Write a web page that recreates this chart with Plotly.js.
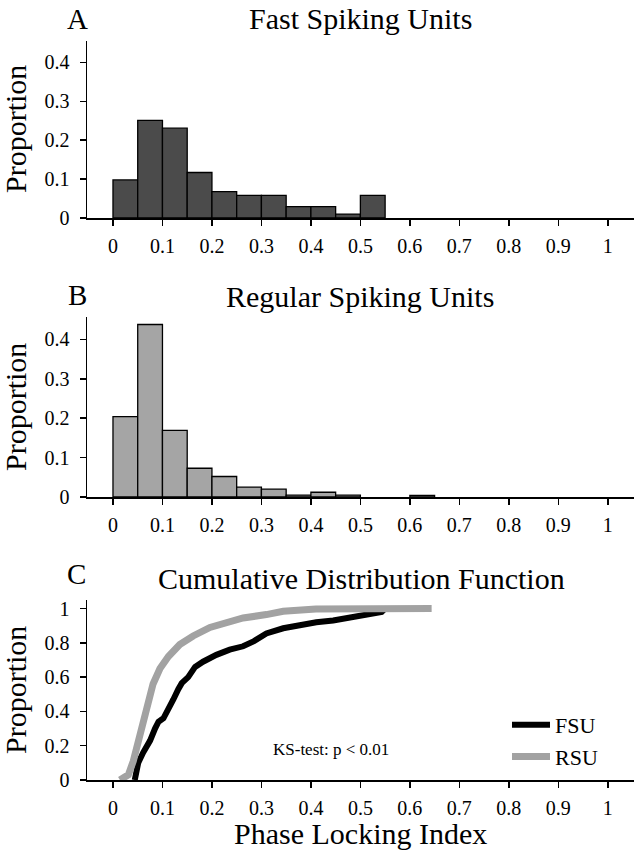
<!DOCTYPE html>
<html>
<head>
<meta charset="utf-8">
<script src="https://cdn.plot.ly/plotly-3.0.1.min.js"></script>
<style>
  html, body { margin: 0; padding: 0; background: #fff; }
  #chart { width: 634px; height: 853px; }
</style>
</head>
<body>
<div id="chart"></div>
<script>
// histogram bins (left edges), width 0.05; null = empty bin
var binLeft = [0, 0.05, 0.1, 0.15, 0.2, 0.25, 0.3, 0.35, 0.4, 0.45, 0.5, 0.55, 0.6];
var fsuProp = [0.098, 0.251, 0.231, 0.117, 0.068, 0.058, 0.058, 0.029, 0.029, 0.010, 0.058, null, null];
var rsuProp = [0.204, 0.438, 0.169, 0.073, 0.052, 0.025, 0.020, 0.005, 0.012, 0.005, null, null, 0.004];

// cumulative distributions
var fsuCdfX = [0.044, 0.051, 0.061, 0.075, 0.085, 0.092, 0.102, 0.112, 0.122, 0.132, 0.139, 0.152, 0.166, 0.182, 0.209, 0.236, 0.263, 0.285, 0.31, 0.344, 0.378, 0.411, 0.445, 0.465, 0.499, 0.526, 0.543, 0.55];
var fsuCdfY = [0, 0.10, 0.16, 0.23, 0.30, 0.34, 0.36, 0.41, 0.47, 0.53, 0.565, 0.60, 0.66, 0.69, 0.73, 0.76, 0.78, 0.81, 0.855, 0.885, 0.905, 0.92, 0.93, 0.94, 0.95, 0.965, 0.98, 1.0];
var rsuCdfX = [0.014, 0.031, 0.041, 0.051, 0.061, 0.071, 0.081, 0.095, 0.112, 0.135, 0.162, 0.196, 0.230, 0.263, 0.31, 0.344, 0.41, 0.479, 0.644];
var rsuCdfY = [0, 0.03, 0.11, 0.23, 0.35, 0.46, 0.56, 0.65, 0.72, 0.79, 0.84, 0.89, 0.92, 0.945, 0.965, 0.984, 0.998, 1.0, 1.0];

var xTicks = [0, 0.1, 0.2, 0.3, 0.4, 0.5, 0.6, 0.7, 0.8, 0.9, 1];

var FONT = '"Liberation Serif", "Times New Roman", serif';
var W = 634, H = 853;

// pixel -> paper helpers for text placement
function px(x) { return x / W; }
function py(y) { return 1 - y / H; }

var data = [
    {
        type: 'bar', x: binLeft, y: fsuProp, width: 0.05, offset: 0,
        marker: {color: '#4b4b4b', line: {color: '#000', width: 1.3}},
        xaxis: 'x', yaxis: 'y', showlegend: false
    },
    {
        type: 'bar', x: binLeft, y: rsuProp, width: 0.05, offset: 0,
        marker: {color: '#a5a5a5', line: {color: '#000', width: 1.3}},
        xaxis: 'x2', yaxis: 'y2', showlegend: false
    },
    {
        type: 'scatter', mode: 'lines', name: 'FSU',
        x: fsuCdfX, y: fsuCdfY,
        line: {color: '#000', width: 6},
        xaxis: 'x3', yaxis: 'y3'
    },
    {
        type: 'scatter', mode: 'lines', name: 'RSU',
        x: rsuCdfX, y: rsuCdfY,
        line: {color: '#a2a2a2', width: 7},
        xaxis: 'x3', yaxis: 'y3'
    }
];

function xAxis(anchor) {
    return {
        anchor: anchor, domain: [87 / W, 1], range: [-0.0525, 1.053],
        tickvals: xTicks, ticks: 'outside', ticklen: 6, tickwidth: 1.5, tickcolor: '#000',
        showline: true, linecolor: '#000', linewidth: 1.5,
        showgrid: false, zeroline: false, ticklabelstandoff: 3,
        tickfont: {family: FONT, size: 20, color: '#000'}
    };
}
function yAxis(anchor, dom, rng, dt) {
    return {
        anchor: anchor, domain: dom, range: rng, dtick: dt, tick0: 0,
        ticks: 'outside', ticklen: 6, tickwidth: 1.5, tickcolor: '#000',
        showline: true, linecolor: '#000', linewidth: 1.5,
        showgrid: false, zeroline: false, ticklabelstandoff: 6,
        tickfont: {family: FONT, size: 20, color: '#000'}
    };
}

function label(text, x, y, size, extra) {
    var a = {
        text: text, xref: 'paper', yref: 'paper', x: px(x), y: py(y),
        xanchor: 'center', yanchor: 'middle', showarrow: false,
        font: {family: FONT, size: size, color: '#000'}
    };
    for (var k in extra) a[k] = extra[k];
    return a;
}

var layout = {
    width: W, height: H,
    margin: {l: 0, r: 0, t: 0, b: 0},
    paper_bgcolor: '#fff', plot_bgcolor: '#fff',
    bargap: 0,
    xaxis: xAxis('y'),
    yaxis: yAxis('x', [py(218), py(41)], [0, 0.455], 0.1),
    xaxis2: xAxis('y2'),
    yaxis2: yAxis('x2', [py(497), py(317)], [0, 0.457], 0.1),
    xaxis3: xAxis('y3'),
    yaxis3: yAxis('x3', [py(780), py(600)], [0, 1.05], 0.2),
    showlegend: true,
    legend: {
        x: px(507), y: py(704), xanchor: 'left', yanchor: 'top',
        bgcolor: 'rgba(0,0,0,0)', borderwidth: 0, itemwidth: 38,
        font: {family: FONT, size: 22, color: '#000'},
        traceorder: 'normal'
    },
    annotations: [
        label('A', 77, 19, 29),
        label('Fast Spiking Units', 360, 18, 30),
        label('B', 77, 295, 29),
        label('Regular Spiking Units', 360, 297, 30),
        label('C', 76, 574, 29),
        label('Cumulative Distribution Function', 361, 578, 30),
        label('Proportion', 15, 129, 30, {textangle: -90}),
        label('Proportion', 15, 407, 30, {textangle: -90}),
        label('Proportion', 15, 690, 30, {textangle: -90}),
        label('Phase Locking Index', 360, 833, 30),
        label('KS-test: p &lt; 0.01', 331, 749, 17)
    ]
};

Plotly.newPlot('chart', data, layout, {displayModeBar: false, staticPlot: true});
</script>
</body>
</html>
